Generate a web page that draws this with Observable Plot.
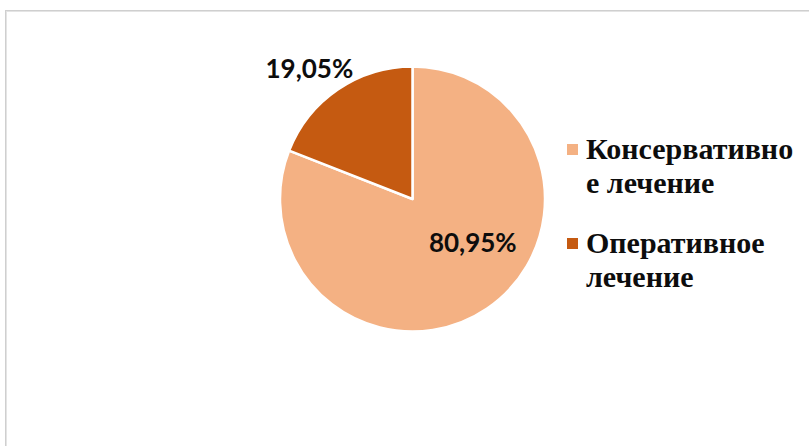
<!DOCTYPE html>
<html><head><meta charset="utf-8">
<script src="https://cdn.jsdelivr.net/npm/d3@7"></script>
<script src="https://cdn.jsdelivr.net/npm/@observablehq/plot@0.6"></script>
<style>
body{margin:0;background:#fff;}
#wrap{position:relative;width:809px;height:446px;overflow:hidden;background:#fff;}
#frame{position:absolute;left:5px;top:10px;width:900px;height:600px;border-left:1px solid #cfcfcf;border-top:1px solid #cfcfcf;box-shadow:inset 1px 1px 0 #e4e4e4;}
#chart{position:absolute;left:0;top:0;}
#legend{position:absolute;left:567px;top:132px;width:232px;font-family:"Liberation Serif","Times New Roman",serif;font-weight:bold;font-size:30px;line-height:34px;color:#0d0d0d;}
.item{position:relative;padding-left:19px;width:213px;overflow-wrap:anywhere;margin-bottom:26px;}
.sw{position:absolute;left:0;top:12px;width:11px;height:11px;}
</style>
</head><body>
<div id="wrap"><div id="frame"></div><div id="chart"></div><div id="legend"></div></div>
<script>
const categories = ["Консервативное лечение", "Оперативное лечение"];
const values = [80.95, 19.05];
const labels = ["80,95%", "19,05%"];
const colors = ["#F4B183", "#C55A11"];

const data = categories.map((c, i) => ({category: c, value: values[i], label: labels[i]}));
const arcs = d3.pie().sort(null).value(d => d.value)(data);
// label anchor points in data units (unit circle), from each slice's mid-angle
const labelRadius = [0.6, 1.0];
const labelOffset = [[15, -22], [-29, -20]];
const labelData = arcs.map((a, i) => {
  const m = (a.startAngle + a.endAngle) / 2;
  return {label: a.data.label, x: Math.sin(m) * labelRadius[i], y: Math.cos(m) * labelRadius[i], dx: labelOffset[i][0], dy: labelOffset[i][1]};
});

const pieMark = (index, scales) => {
  const cx = scales.x(0), cy = scales.y(0);
  const r = scales.x(1) - scales.x(0);
  const arc = d3.arc().innerRadius(0).outerRadius(r);
  const g = d3.create("svg:g").attr("transform", `translate(${cx},${cy})`);
  g.selectAll("path").data(arcs).join("path")
    .attr("d", arc)
    .attr("fill", d => scales.color(d.data.category))
    .attr("stroke", "#fff")
    .attr("stroke-width", 2.5)
    .attr("stroke-linejoin", "round");
  return g.node();
};

const chart = Plot.plot({
  width: 809,
  height: 446,
  margin: 0,
  style: {background: "transparent", overflow: "visible"},
  x: {domain: [-1, 1], range: [280, 545], axis: null},
  y: {domain: [-1, 1], range: [331.5, 66.5], axis: null},
  color: {domain: categories, range: colors},
  marks: [
    Plot.dot(data, {x: 0, y: 0, r: 0, fill: "category"}),
    pieMark,
    ...labelData.map(d => Plot.text([d], {x: "x", y: "y", text: "label", dx: d.dx, dy: d.dy,
      fontFamily: "Lato", fontWeight: "bold", fontSize: 26, fill: "#0d0d0d"}))
  ]
});
document.getElementById("chart").appendChild(chart);

const color = chart.scale("color");
const legend = d3.select("#legend");
categories.forEach((c, i) => {
  const it = legend.append("div").attr("class", "item");
  it.append("div").attr("class", "sw").style("background", color.range[i]);
  it.append("span").text(c);
});
</script>
</body></html>
